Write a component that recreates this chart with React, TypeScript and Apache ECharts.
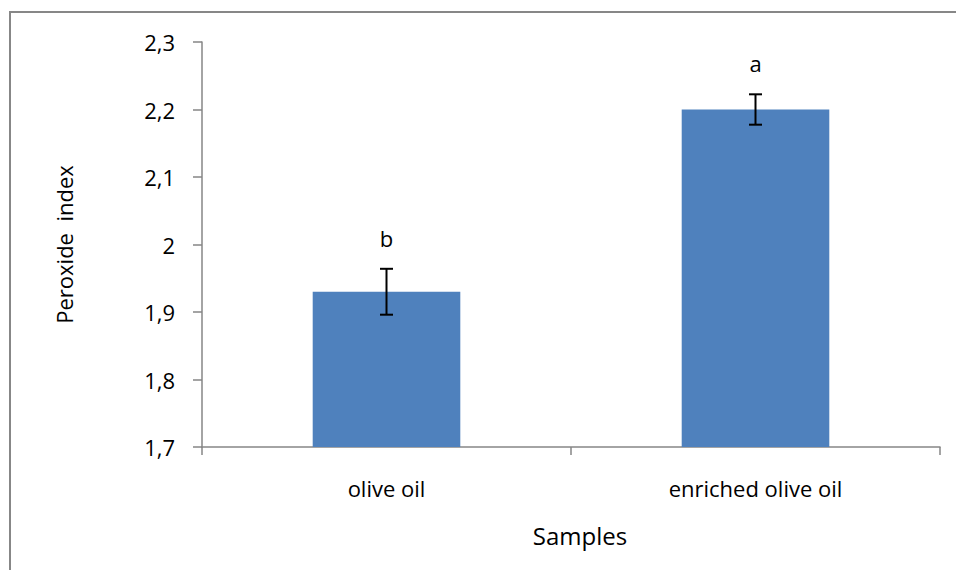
import React, { useEffect, useRef } from "react";
import * as echarts from "echarts";

const categories = ["olive oil", "enriched olive oil"];
const values = [1.93, 2.2];
const errors = [0.034, 0.0225];
const letters = ["b", "a"];
const yTicks = { min: 1.7, max: 2.3, interval: 0.1 };

const FONT = "'Open Sans', 'Noto Sans', sans-serif";

export default function App() {
  const ref = useRef<HTMLDivElement>(null);
  useEffect(() => {
    if (!ref.current) return;
    const chart = echarts.init(ref.current, null, { renderer: "svg" });
    const errData = values.map((v, i) => [i, v - errors[i], v + errors[i], letters[i]]);
    chart.setOption({
      animation: false,
      backgroundColor: "#ffffff",
      graphic: [
        {
          type: "rect",
          shape: { x: 10, y: 12, width: 1000, height: 700 },
          style: { fill: "none", stroke: "#878787", lineWidth: 2 },
          silent: true,
          z: -1,
        },
      ],
      grid: { left: 202, right: 16, top: 42, bottom: 123 },
      xAxis: {
        type: "category",
        data: categories,
        name: "Samples",
        nameLocation: "middle",
        nameGap: 76,
        nameTextStyle: { fontFamily: FONT, fontSize: 24, color: "#000", padding: [0, 0, 0, 18] },
        axisLine: { lineStyle: { color: "#868686", width: 1.5 } },
        axisTick: { show: true, alignWithLabel: false, length: 8, lineStyle: { color: "#868686", width: 1.5 } },
        axisLabel: { fontFamily: FONT, fontSize: 22, color: "#000", margin: 30 },
      },
      yAxis: {
        type: "value",
        min: yTicks.min,
        max: yTicks.max,
        interval: yTicks.interval,
        name: "Peroxide  index",
        nameLocation: "middle",
        nameGap: 127,
        nameRotate: 90,
        nameTextStyle: { fontFamily: FONT, fontSize: 22, color: "#000" },
        splitLine: { show: false },
        axisLine: { show: true, lineStyle: { color: "#868686", width: 1.5 } },
        axisTick: { show: true, length: 9, lineStyle: { color: "#868686", width: 1.5 } },
        axisLabel: {
          fontFamily: FONT,
          fontSize: 22,
          color: "#000",
          margin: 27,
          formatter: (v: number) => {
            const r = Math.round(v * 10) / 10;
            return Number.isInteger(r) ? String(r) : r.toFixed(1).replace(".", ",");
          },
        },
      },
      series: [
        {
          type: "bar",
          data: values,
          barWidth: "40%",
          itemStyle: { color: "#4F81BD" },
        },
        {
          type: "custom",
          data: errData,
          z: 10,
          renderItem: (params: any, api: any) => {
            const x = api.value(0);
            const lo = api.coord([x, api.value(1)]);
            const hi = api.coord([x, api.value(2)]);
            const cx = lo[0];
            const cap = 6.5;
            const style = { stroke: "#000", lineWidth: 2 };
            return {
              type: "group",
              children: [
                { type: "line", shape: { x1: cx, y1: hi[1], x2: cx, y2: lo[1] }, style },
                { type: "line", shape: { x1: cx - cap, y1: hi[1], x2: cx + cap, y2: hi[1] }, style },
                { type: "line", shape: { x1: cx - cap, y1: lo[1], x2: cx + cap, y2: lo[1] }, style },
                {
                  type: "text",
                  x: cx,
                  y: hi[1] - 31,
                  style: {
                    text: String(api.value(3)),
                    fontFamily: FONT,
                    fontSize: 22,
                    fill: "#000",
                    align: "center",
                    verticalAlign: "middle",
                  },
                },
              ],
            };
          },
        },
      ],
    });
    return () => chart.dispose();
  }, []);
  return (
    <div
      ref={ref}
      style={{ position: "absolute", left: 0, top: 0, width: 956, height: 570 }}
    />
  );
}
